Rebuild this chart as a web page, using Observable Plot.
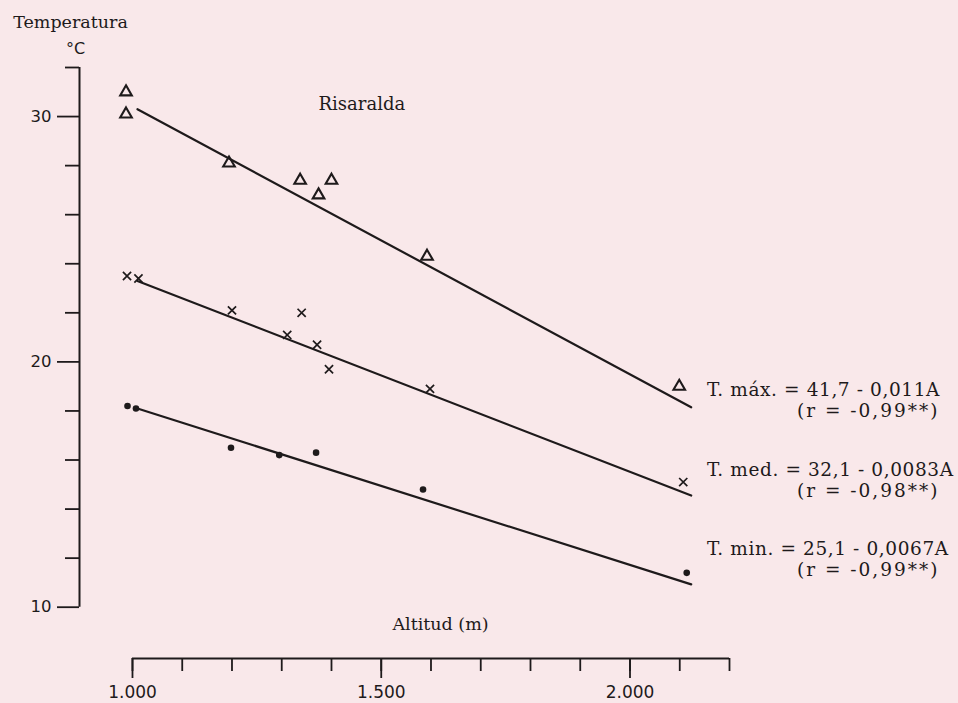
<!DOCTYPE html>
<html><head><meta charset="utf-8">
<script src="https://cdn.jsdelivr.net/npm/d3@7"></script>
<script src="https://cdn.jsdelivr.net/npm/@observablehq/plot@0.6"></script>
<style>
html,body{margin:0;padding:0;background:#f9e8ea;}
#chart{width:958px;height:703px;}
</style></head><body><div id="chart"></div>
<script>
// ---- data ----
const maxAltitud = [987, 987, 1194, 1337, 1400, 1374, 1592, 2099];
const maxTemp    = [31.0, 30.1, 28.1, 27.4, 27.4, 26.8, 24.3, 19.0];
const medAltitud = [989, 1012, 1200, 1340, 1311, 1371, 1395, 1598, 2107];
const medTemp    = [23.5, 23.4, 22.1, 22.0, 21.1, 20.7, 19.7, 18.9, 15.1];
const minAltitud = [990, 1007, 1198, 1295, 1369, 1584, 2114];
const minTemp    = [18.2, 18.1, 16.5, 16.2, 16.3, 14.8, 11.4];
// fitted lines, end points as drawn
const lineAltitud = [1010, 2123];
const lineMax = [30.3, 18.15];
const lineMed = [23.3, 14.55];
const lineMin = [18.1, 10.93];
const seriesNames = ["max", "med", "min"];
const eqLabels = ["T. máx. = 41,7 - 0,011A", "T. med. = 32,1 - 0,0083A", "T. min. = 25,1 - 0,0067A"];
const rLabels = ["(r = -0,99**)", "(r = -0,98**)", "(r = -0,99**)"];
const yMajorTicks = [10, 20, 30];
const yMinorTicks = [12, 14, 16, 18, 22, 24, 26, 28, 32];
const xTicks = [1000, 1100, 1200, 1300, 1400, 1500, 1600, 1700, 1800, 1900, 2000, 2100, 2200];
const xMajorTicks = [1000, 1500, 2000];
const xMajorLabels = ["1.000", "1.500", "2.000"];
const title = "Temperatura";
const unit = "°C";
const xTitle = "Altitud (m)";
const place = "Risaralda";

// ---- build tables ----
const toRows = (alt, t) => alt.map((a, i) => ({alt: a, t: t[i]}));
const maxRows = toRows(maxAltitud, maxTemp);
const medRows = toRows(medAltitud, medTemp);
const minRows = toRows(minAltitud, minTemp);
const lineRows = [lineMax, lineMed, lineMin].flatMap((ys, k) =>
  lineAltitud.map((a, i) => ({alt: a, t: ys[i], s: seriesNames[k]})));

const ink = "#1e1a1b";
const serif = "DejaVu Serif";
const sans = "DejaVu Sans";
const xMin = 893.5;
const axisShift = 51.3;
const eqY = [18.87, 15.57, 12.36];
const rY = [18.0, 14.72, 11.5];

const chart = Plot.plot({
  width: 958, height: 703,
  marginLeft: 79, marginRight: 229, marginTop: 67, marginBottom: 96.3,
  x: {domain: [xMin, 2200], axis: null},
  y: {domain: [10, 32], axis: null},
  style: {background: "transparent", overflow: "visible", color: ink},
  marks: [
    // y axis
    Plot.ruleX([xMin], {y1: () => 10, y2: () => 32, stroke: ink, strokeWidth: 2}),
    Plot.axisY({ticks: yMinorTicks, tickSize: 14, tickFormat: () => "", stroke: ink, strokeWidth: 1.8, label: null}),
    Plot.axisY({ticks: yMajorTicks, tickSize: 22, tickPadding: 6, stroke: ink, strokeWidth: 1.8,
      fill: ink, fontSize: 16.5, fontFamily: sans, label: null}),
    // x axis (detached, below the frame)
    Plot.ruleY([10], {x1: () => 1000, x2: () => 2200, dy: axisShift, stroke: ink, strokeWidth: 2}),
    Plot.axisX({ticks: xTicks, tickSize: 13, tickFormat: () => "", dy: axisShift, stroke: ink, strokeWidth: 1.8, label: null}),
    Plot.axisX({ticks: xMajorTicks, tickSize: 20, tickPadding: 7, dy: axisShift, stroke: ink, strokeWidth: 1.8,
      tickFormat: d => xMajorLabels[xMajorTicks.indexOf(d)], fill: ink, fontSize: 17, fontFamily: sans, label: null}),
    // regression lines
    Plot.line(lineRows, {x: "alt", y: "t", z: "s", stroke: ink, strokeWidth: 2.2}),
    // observations
    Plot.dot(maxRows, {x: "alt", y: "t", symbol: "triangle", r: 4.3, stroke: ink, strokeWidth: 2.1, fill: "none"}),
    Plot.dot(medRows, {x: "alt", y: "t", symbol: "times", r: 3.8, stroke: ink, strokeWidth: 1.7}),
    Plot.dot(minRows, {x: "alt", y: "t", symbol: "circle", r: 3.3, fill: ink, stroke: "none"}),
    // annotations
    Plot.text([place], {x: () => 1374, y: () => 30.25, text: d => d, textAnchor: "start", lineAnchor: "bottom",
      fontFamily: serif, fontSize: 18, fill: ink}),
    Plot.text(eqLabels, {x: () => 2155, y: (d, i) => eqY[i], text: d => d, textAnchor: "start",
      lineAnchor: "middle", fontFamily: serif, fontSize: 18.5, fill: ink}),
    Plot.text(rLabels, {x: () => 2622, y: (d, i) => rY[i], text: d => d, textAnchor: "end",
      lineAnchor: "middle", fontFamily: serif, fontSize: 18.5, fill: ink}),
    Plot.text([title], {frameAnchor: "top-left", dx: -9, dy: -40, text: d => d, textAnchor: "middle", lineAnchor: "bottom",
      fontFamily: serif, fontSize: 17.5, fill: ink}),
    Plot.text([unit], {frameAnchor: "top-left", dx: -4, dy: -14, text: d => d, textAnchor: "middle", lineAnchor: "bottom",
      fontFamily: sans, fontSize: 16, fill: ink}),
    Plot.text([xTitle], {frameAnchor: "bottom-left", dx: 361, dy: 23, text: d => d, textAnchor: "middle", lineAnchor: "bottom",
      fontFamily: serif, fontSize: 17.5, fill: ink})
  ]
});
// wider letter spacing of the typewritten equations, as in the original
d3.select(chart).selectAll("text")
  .filter(function () { return eqLabels.includes(this.textContent); })
  .attr("letter-spacing", "0.6px");
d3.select(chart).selectAll("text")
  .filter(function () { return rLabels.includes(this.textContent); })
  .attr("letter-spacing", "2px");
document.getElementById("chart").appendChild(chart);
</script>
</body></html>
